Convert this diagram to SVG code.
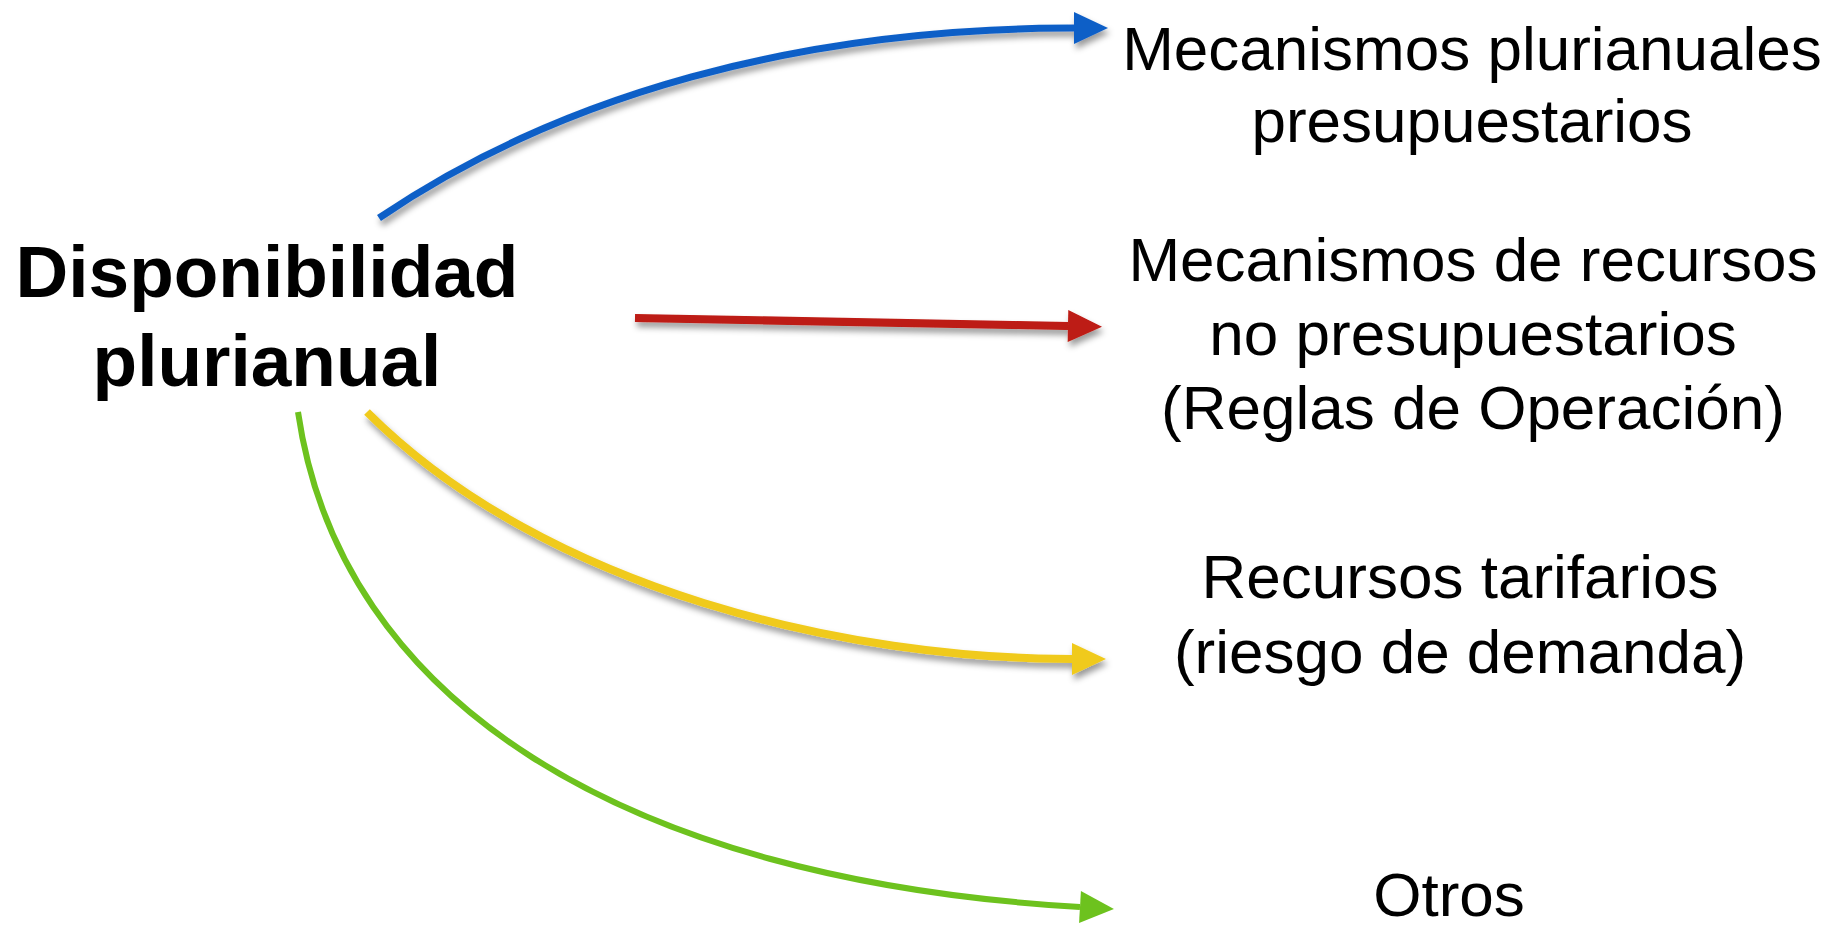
<svg xmlns="http://www.w3.org/2000/svg" width="1845" height="930" viewBox="0 0 1845 930">
<style>
.title{font-family:"Liberation Sans",Arial,sans-serif;font-weight:bold;font-size:73px;fill:#000;text-anchor:middle}
.lbl{font-family:"Liberation Sans",Arial,sans-serif;font-size:62px;fill:#000;text-anchor:middle}
.c{fill:none;stroke-linecap:butt}
</style>
<defs>
<filter id="sh" filterUnits="userSpaceOnUse" x="0" y="0" width="1845" height="930">
<feDropShadow dx="2" dy="5" stdDeviation="3" flood-color="#000" flood-opacity="0.4"/>
</filter>
<marker id="mb" markerUnits="userSpaceOnUse" markerWidth="36" markerHeight="34" refX="0" refY="16" orient="auto" overflow="visible"><path d="M0,0 L34,16 L0,32 z" fill="#0F5FC7"/></marker>
<marker id="mr" markerUnits="userSpaceOnUse" markerWidth="36" markerHeight="34" refX="0" refY="16" orient="auto" overflow="visible"><path d="M0,0 L34,16 L0,32 z" fill="#BD1A13"/></marker>
<marker id="my" markerUnits="userSpaceOnUse" markerWidth="36" markerHeight="34" refX="0" refY="16" orient="auto" overflow="visible"><path d="M0,0 L34,16 L0,32 z" fill="#F0CA1E"/></marker>
<marker id="mg" markerUnits="userSpaceOnUse" markerWidth="36" markerHeight="34" refX="0" refY="16" orient="auto" overflow="visible"><path d="M0,0 L34,16 L0,32 z" fill="#6DC21E"/></marker>
</defs>
<rect width="1845" height="930" fill="#fff"/>
<g id="connectors">
<path class="c" d="M379,218 C560,95 800,28 1074,28" stroke="#0F5FC7" stroke-width="7" marker-end="url(#mb)" filter="url(#sh)"/>
<path class="c" d="M635,318 L1068,326" stroke="#BD1A13" stroke-width="8" marker-end="url(#mr)" filter="url(#sh)"/>
<path class="c" d="M367,412 C547,592 850,659 1072,659" stroke="#F0CA1E" stroke-width="8" marker-end="url(#my)" filter="url(#sh)"/>
<path class="c" d="M298,412 C340,700 620,880 1080,907" stroke="#6DC21E" stroke-width="6" marker-end="url(#mg)"/>
</g>
<g id="source">
<text class="title" x="267" y="297">Disponibilidad</text>
<text class="title" x="267" y="386">plurianual</text>
</g>
<g id="n1">
<text class="lbl" x="1472" y="70">Mecanismos plurianuales</text>
<text class="lbl" x="1472" y="142">presupuestarios</text>
</g>
<g id="n2">
<text class="lbl" x="1473" y="281">Mecanismos de recursos</text>
<text class="lbl" x="1473" y="355">no presupuestarios</text>
<text class="lbl" x="1473" y="429">(Reglas de Operación)</text>
</g>
<g id="n3">
<text class="lbl" x="1460" y="598">Recursos tarifarios</text>
<text class="lbl" x="1460" y="673">(riesgo de demanda)</text>
</g>
<g id="n4">
<text class="lbl" x="1449" y="916">Otros</text>
</g>
</svg>
